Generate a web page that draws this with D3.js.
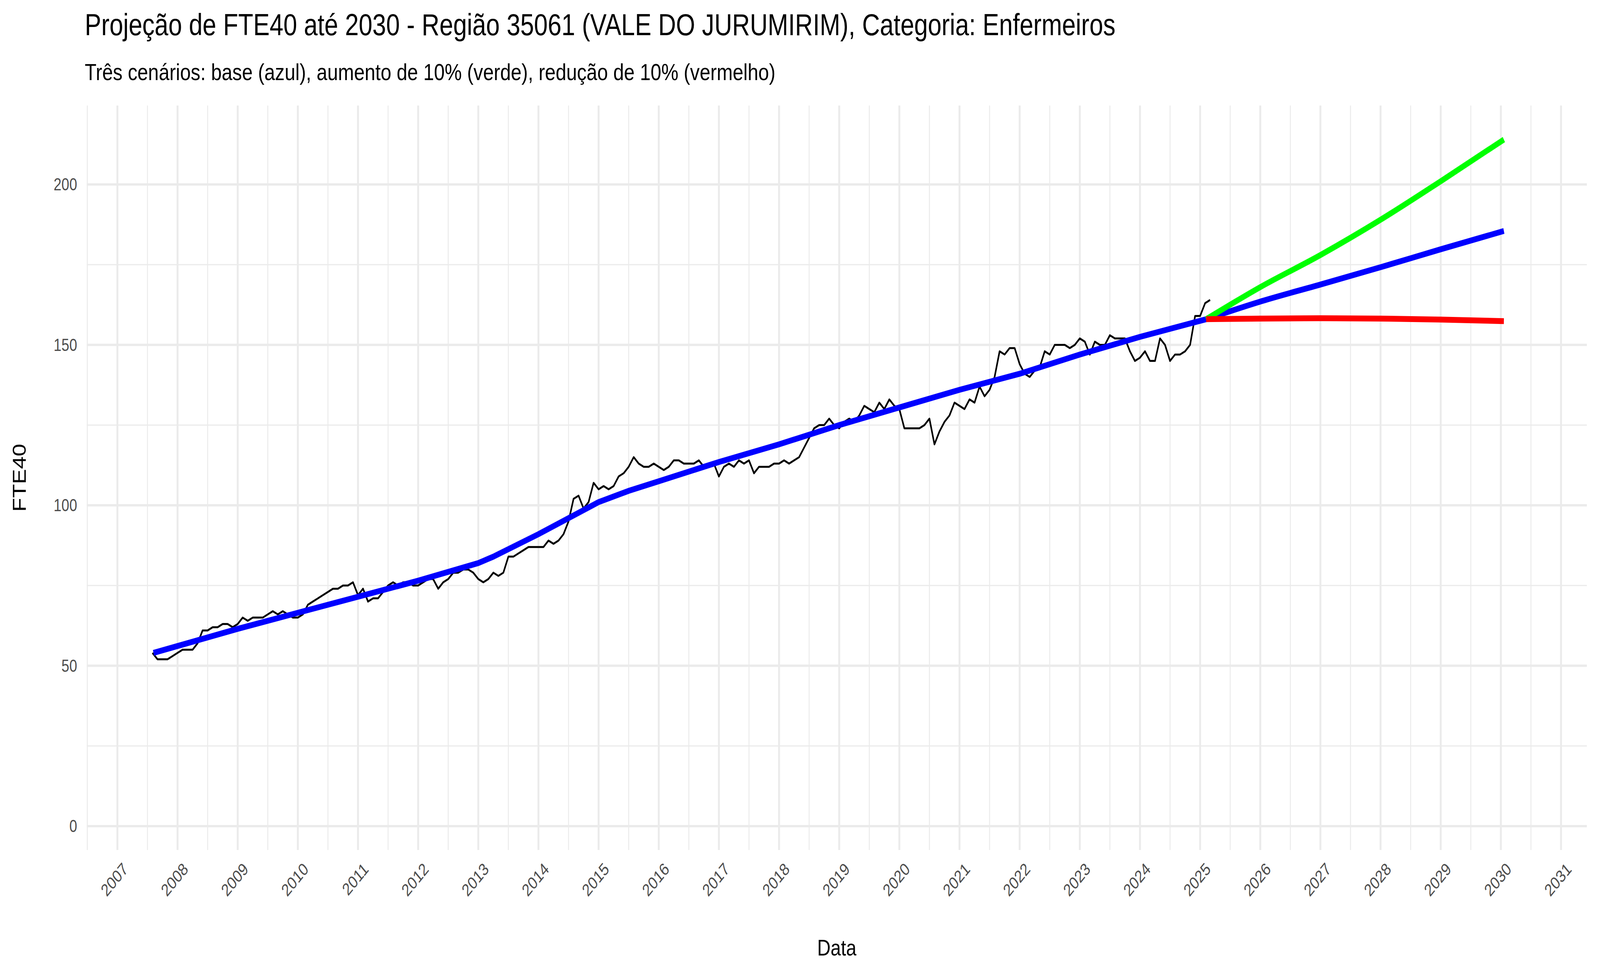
<!DOCTYPE html>
<html><head><meta charset="utf-8">
<script src="https://cdn.jsdelivr.net/npm/d3@7"></script>
<style>html,body{margin:0;padding:0;background:#fff;overflow:hidden}svg{display:block;width:100vw;height:100vh}text{font-family:"Liberation Sans",Arial,sans-serif}</style>
</head><body><svg id="c" viewBox="0 0 5000 2500" preserveAspectRatio="none"></svg>
<script>
// Observed monthly FTE40, starting Aug 2007
const obsStart = [2007, 8];
const observed = [
 54,52,52,52,53,
 54,55,55,55,57,61,61,62,62,63,63,62,
 63,65,64,65,65,65,66,67,66,67,66,65,
 65,66,69,70,71,72,73,74,74,75,75,76,
 72,74,70,71,71,73,75,76,75,76,76,75,
 75,76,77,77,74,76,77,79,79,80,80,79,
 77,76,77,79,78,79,84,84,85,86,87,87,
 87,87,89,88,89,91,95,102,103,99,101,107,
 105,106,105,106,109,110,112,115,113,112,112,113,
 112,111,112,114,114,113,113,113,114,112,113,113,
 109,112,113,112,114,113,114,110,112,112,112,113,
 113,114,113,114,115,118,121,124,125,125,127,125,
 124,126,127,126,128,131,130,129,132,130,133,131,
 130,124,124,124,124,125,127,119,123,126,128,132,
 131,130,133,132,137,134,136,140,148,147,149,149,
 144,141,140,142,143,148,147,150,150,150,149,150,
 152,151,147,151,150,150,153,152,152,152,148,145,
 146,148,145,145,152,150,145,147,147,148,150,159,
 159,163,164
];
const trendX = [2007.6,2009,2010,2011,2012,2013,2013.25,2014,2014.5,2015,2015.5,2016,2017,2018,2019,2020,2021,2022,2023,2024,2025.1];
const trendY = [54,61.5,66.5,71.5,76.5,82,84,91,96,101,104.5,107.5,113.5,119,125,130.5,136,141,147,152.5,158];
const fcX = [2025.1,2026,2027,2028,2029,2030.05];
const fcBase = [158,163.5,168.8,174.2,179.8,185.5];
const fcUp = [158,168,178,189,201,214];
const fcDown = [158,158.2,158.3,158.2,157.9,157.4];
const xTicks = d3.range(2007,2032);
const yTicks = [0,50,100,150,200];

const svg = d3.select("#c");
const L=271,R=4959,T=270,B=2175;
const x = d3.scaleLinear().domain([2006.49,2031.43]).range([L,R]);
const y = d3.scaleLinear().domain([0,200]).range([2114,472]);
const yMin = y.invert(B), yMax = y.invert(T);
const g = svg.append("g");
for(let v=-25; v<=yMax; v+=50) if(v>yMin) g.append("line").attr("x1",L).attr("x2",R).attr("y1",y(v)).attr("y2",y(v)).attr("stroke","#ebebeb").attr("stroke-width",3);
xTicks.forEach(t=>{const m=t+0.5; if(x(m)<R) g.append("line").attr("x1",x(m)).attr("x2",x(m)).attr("y1",T).attr("y2",B).attr("stroke","#ebebeb").attr("stroke-width",3);});
g.append("line").attr("x1",x(2006.5)).attr("x2",x(2006.5)).attr("y1",T).attr("y2",B).attr("stroke","#ebebeb").attr("stroke-width",3);
yTicks.forEach(v=>g.append("line").attr("x1",L).attr("x2",R).attr("y1",y(v)).attr("y2",y(v)).attr("stroke","#ebebeb").attr("stroke-width",6));
xTicks.forEach(t=>g.append("line").attr("x1",x(t)).attr("x2",x(t)).attr("y1",T).attr("y2",B).attr("stroke","#ebebeb").attr("stroke-width",6));
yTicks.forEach(v=>svg.append("text").attr("x",L-30).attr("y",y(v)).attr("dy","0.35em").attr("text-anchor","end").attr("font-size",44).attr("fill","#4d4d4d").text(v));
xTicks.forEach(t=>svg.append("text").attr("transform",`translate(${x(t)+14},${B+30}) rotate(-45)`).attr("text-anchor","end").attr("dy","0.7em").attr("font-size",44).attr("fill","#4d4d4d").text(t));
const obsPts = observed.map((v,i)=>[obsStart[0]+(obsStart[1]-1+i)/12, v]);
const line = d3.line().x(d=>x(d[0])).y(d=>y(d[1]));
svg.append("path").attr("d",line(obsPts)).attr("fill","none").attr("stroke","#000").attr("stroke-width",5).attr("stroke-linejoin","round");
svg.append("path").attr("d",line(trendX.map((t,i)=>[t,trendY[i]]))).attr("fill","none").attr("stroke","#0000ff").attr("stroke-width",15);
const curve = d3.line().x(d=>x(d[0])).y(d=>y(d[1])).curve(d3.curveMonotoneX);
[[fcBase,"#0000ff"],[fcUp,"#00ff00"],[fcDown,"#ff0000"]].forEach(([s,c])=>
 svg.append("path").attr("d",curve(fcX.map((t,i)=>[t,s[i]]))).attr("fill","none").attr("stroke",c).attr("stroke-width",15));
svg.append("text").attr("x",265).attr("y",90).attr("font-size",77).attr("fill","#000").text("Projeção de FTE40 até 2030 - Região 35061 (VALE DO JURUMIRIM), Categoria: Enfermeiros");
svg.append("text").attr("x",265).attr("y",205).attr("font-size",60).attr("fill","#000").text("Três cenários: base (azul), aumento de 10% (verde), redução de 10% (vermelho)");
svg.append("text").attr("transform",`translate(80,${(T+B)/2}) rotate(-90)`).attr("text-anchor","middle").attr("font-size",58).text("FTE40");
svg.append("text").attr("x",(L+R)/2).attr("y",2445).attr("text-anchor","middle").attr("font-size",58).text("Data");
</script></body></html>
